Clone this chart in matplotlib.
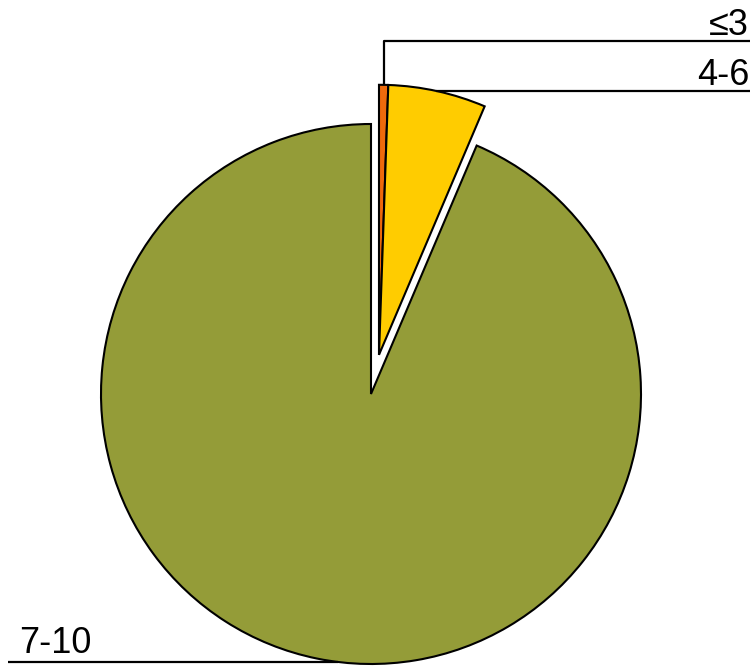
import numpy as np
import matplotlib.pyplot as plt

plt.rcParams['font.family'] = ['Liberation Sans', 'DejaVu Sans']

labels = ['≤3', '4-6', '7-10']
shares = [0.55, 5.85, 93.6]
colors = ['#ee6a0c', '#ffcc00', '#949c38']

W, H = 755, 667
cx, cy, R = 371, 394, 270   # pie centre and radius in pixels


def to_data(px, py):
    return (px - cx) / R, (cy - py) / R


fig = plt.figure(figsize=(W / 100, H / 100), dpi=100)
ax = fig.add_axes([0, 0, 1, 1])
wedges, _ = ax.pie(shares, colors=colors, startangle=90, counterclock=False,
                   radius=1, wedgeprops=dict(edgecolor='black', linewidth=1.5))

# pull the two small slices out together
total = sum(shares)
span = (shares[0] + shares[1]) / total * 360
mid = np.deg2rad(90 - span / 2)
off = 40 / R
shift = np.array([off * np.cos(mid), off * np.sin(mid)])
for w in wedges[:2]:
    w.set_center(tuple(shift))

ax.set_xlim(-cx / R, (W - cx) / R)
ax.set_ylim((cy - H) / R, cy / R)
ax.set_aspect('equal')
ax.axis('off')

lk = dict(color='black', lw=1.6, solid_capstyle='butt')
tk = dict(fontsize=26, color='black', va='baseline')

# ≤3 : up from the orange slice, then right
a0 = np.deg2rad(90 - shares[0] / total * 360 / 2)
p0 = shift + np.array([np.cos(a0), np.sin(a0)])
x_end = to_data(750, 0)[0]
y1 = to_data(0, 41)[1]
ax.plot([p0[0], p0[0], x_end], [p0[1], y1, y1], **lk)
ax.text(*to_data(749, 35), labels[0], ha='right', **tk)

# 4-6 : right from the yellow slice's rim
y2 = to_data(0, 91)[1]
a1 = np.arcsin(y2 - shift[1])
x1 = shift[0] + np.cos(a1)
ax.plot([x1, x_end], [y2, y2], **lk)
ax.text(*to_data(749, 85), labels[1], ha='right', **tk)

# 7-10 : left from the bottom of the green slice
y3 = to_data(0, 662)[1]
x3 = -np.sqrt(1 - y3 ** 2)
ax.plot([to_data(8, 0)[0], x3], [y3, y3], **lk)
ax.text(*to_data(19, 653), labels[2], ha='left', **tk)

fig.savefig('out.png', dpi=100)
